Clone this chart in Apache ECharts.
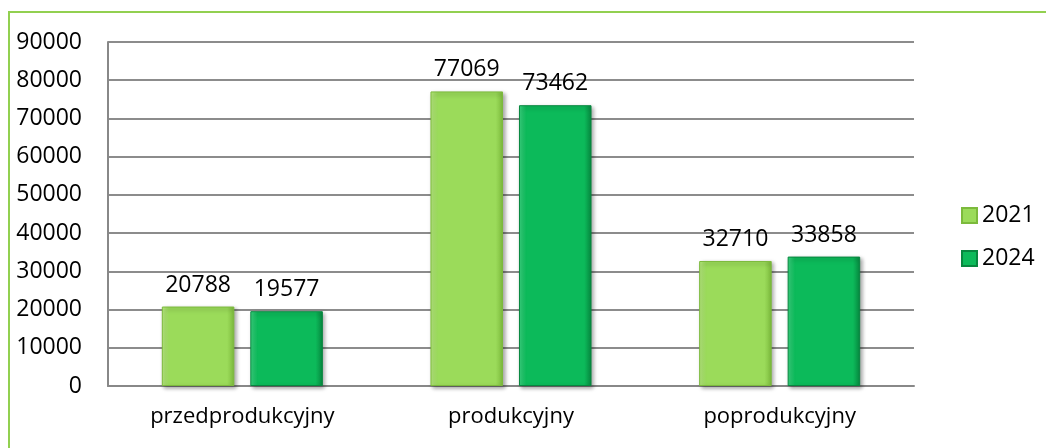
<!DOCTYPE html>
<html>
<head>
<meta charset="utf-8">
<script src="https://cdn.jsdelivr.net/npm/echarts@6/dist/echarts.min.js"></script>
<style>
  html, body { margin: 0; padding: 0; background: #fff; }
  #chart { width: 1046px; height: 448px; }
</style>
</head>
<body>
<div id="chart"></div>
<script>
// data
var categories = ['przedprodukcyjny', 'produkcyjny', 'poprodukcyjny']
var years = ['2021', '2024']
var values2021 = [20788, 77069, 32710]
var values2024 = [19577, 73462, 33858]

var font = 'Open Sans'

function bevel(base, light, dark) {
  return {
    type: 'linear', x: 0, y: 0, x2: 1, y2: 0,
    colorStops: [
      { offset: 0, color: light },
      { offset: 0.1, color: base },
      { offset: 0.9, color: base },
      { offset: 1, color: dark }
    ]
  }
}

var chart = echarts.init(document.getElementById('chart'))

function makeSeries(name, data, base, light, dark) {
  return {
    name: name,
    type: 'bar',
    data: data,
    barWidth: '27%',
    barGap: '22%',
    itemStyle: {
      color: bevel(base, light, dark),
      borderColor: dark,
      borderWidth: 1,
      shadowColor: 'rgba(0,0,0,0.35)',
      shadowBlur: 4,
      shadowOffsetX: 2,
      shadowOffsetY: 2
    },
    label: {
      show: true,
      position: 'top',
      distance: 10,
      color: '#000',
      fontFamily: font,
      fontSize: 23
    }
  }
}

chart.setOption({
  animation: false,
  graphic: [{
    type: 'rect',
    shape: { x: 9, y: 12, width: 1100, height: 500 },
    style: { fill: 'none', stroke: '#92d050', lineWidth: 2 },
    z: -1
  }],
  legend: {
    orient: 'vertical',
    left: 956,
    top: 199,
    itemWidth: 15,
    itemHeight: 15,
    itemGap: 20,
    icon: 'rect',
    textStyle: { fontFamily: font, fontSize: 23, color: '#000' },
    data: years
  },
  grid: { left: 108, right: 132, top: 42, bottom: 62 },
  xAxis: {
    type: 'category',
    data: categories,
    axisLine: { lineStyle: { color: '#888', width: 2 } },
    axisTick: { show: false },
    axisLabel: { fontFamily: font, fontSize: 22, color: '#000', margin: 20 }
  },
  yAxis: {
    type: 'value',
    min: 0,
    max: 90000,
    interval: 10000,
    axisLine: { show: true, lineStyle: { color: '#888', width: 2 } },
    axisTick: { show: false },
    splitLine: { lineStyle: { color: '#8c8c8c', width: 2 } },
    axisLabel: {
      fontFamily: font, fontSize: 23, color: '#000', margin: 26,
      formatter: function (v) { return String(v) }
    }
  },
  series: [
    makeSeries(years[0], values2021, '#9bdb5a', '#b8eb80', '#7cba3c'),
    makeSeries(years[1], values2024, '#0cba5a', '#3ad680', '#07873f')
  ]
})
</script>
</body>
</html>
